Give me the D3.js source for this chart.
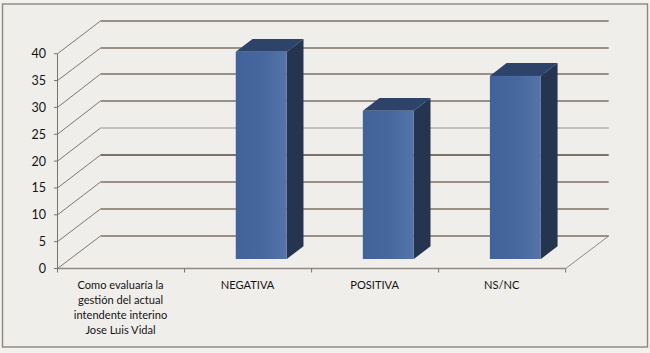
<!DOCTYPE html>
<html><head><meta charset="utf-8">
<script src="https://cdn.jsdelivr.net/npm/d3@7/dist/d3.min.js"></script>
<style>html,body{margin:0;padding:0;background:#f3f1ee}svg{display:block}</style></head>
<body><svg id="c" width="650" height="353"></svg>
<script>
const categories = ["Como evaluaría la|gestión del actual|intendente interino|Jose Luis Vidal", "NEGATIVA", "POSITIVA", "NS/NC"];
const barCategories = ["NEGATIVA", "POSITIVA", "NS/NC"];
const barValues = [38.6, 27.6, 34.1];
const yTicks = [0, 5, 10, 15, 20, 25, 30, 35, 40];

const svg = d3.select("#c");
const font = "Lato, 'Open Sans', sans-serif";
const x = d3.scaleBand().domain(categories).range([57.5, 565.7]);
const y = d3.scaleLinear().domain([0, 40]).range([268.5, 53.7]);
const wallDx = 43, wallDy = -33;
const barFrontDy = -9.5, barShiftX = 13.2, barW = 51, barDx = 16.7, barDy = -12.8;

const defs = svg.append("defs");
const g = defs.append("linearGradient").attr("id", "face");
g.append("stop").attr("offset", "0").attr("stop-color", "#41639a");
g.append("stop").attr("offset", "0.55").attr("stop-color", "#47689f");
g.append("stop").attr("offset", "1").attr("stop-color", "#5575a9");

svg.append("rect").attr("x", 2.5).attr("y", 4).attr("width", 645).attr("height", 343)
  .attr("fill", "#f0eeeb").attr("stroke", "#8b8781").attr("stroke-width", 1.4);

// gridlines on back wall and side wall
const grid = svg.append("g");
yTicks.forEach(t => {
  const c = t === 20 ? "#c4c0bb" : (t === 15 ? "#7d7269" : "#9a9086");
  const by = Math.round(y(t) + wallDy);
  grid.append("line").attr("x1", 57.5).attr("y1", y(t)).attr("x2", 57.5 + wallDx).attr("y2", by)
    .attr("stroke", "#7d7871").attr("stroke-width", 1);
  grid.append("line").attr("x1", 57.5 + wallDx).attr("y1", by).attr("x2", 565.7 + wallDx).attr("y2", by)
    .attr("stroke", c).attr("stroke-width", 2);
});
// floor edge
svg.append("line").attr("x1", 565.7).attr("y1", y(0)).attr("x2", 565.7 + wallDx).attr("y2", Math.round(y(0) + wallDy))
  .attr("stroke", "#8f8a83").attr("stroke-width", 1);

// axes
const axisG = svg.append("g");
axisG.append("line").attr("x1", 57.5).attr("x2", 57.5).attr("y1", y(40)).attr("y2", y(0)).attr("stroke", "#77736d");
axisG.append("line").attr("x1", 57.5).attr("x2", 565.7).attr("y1", y(0)).attr("y2", y(0)).attr("stroke", "#8f8a83").attr("stroke-width", 1.6);
yTicks.forEach(t => {
  axisG.append("line").attr("x1", 54).attr("x2", 57.5).attr("y1", y(t)).attr("y2", y(t)).attr("stroke", "#77736d");
  axisG.append("text").attr("x", 46).attr("y", y(t)).attr("dy", "0.36em").attr("text-anchor", "end")
    .attr("font-family", font).attr("font-size", 12.5).attr("fill", "#141414").text(t);
});
const edges = categories.map(c => x(c)).concat([565.7]);
edges.forEach(e => axisG.append("line").attr("x1", e).attr("x2", e).attr("y1", y(0)).attr("y2", y(0) + 4).attr("stroke", "#77736d"));

// category labels
categories.forEach(c => {
  const lines = c.split("|");
  const t = svg.append("text").attr("text-anchor", "middle").attr("font-family", font).attr("font-size", 11.1).attr("fill", "#141414");
  lines.forEach((l, i) => t.append("tspan").attr("x", x(c) + x.bandwidth() / 2 - 0.5).attr("y", 288.5 + i * 15.3).text(l));
});

// bars
const bars = svg.append("g");
barCategories.forEach((c, i) => {
  const l = x(c) + x.bandwidth() / 2 + barShiftX - barW / 2, r = l + barW;
  const b = y(0) + barFrontDy, top = y(barValues[i]) + barFrontDy;
  const pts = a => a.map(p => p.join(",")).join(" ");
  bars.append("polygon").attr("points", pts([[r, top], [r + barDx, top + barDy], [r + barDx, b + barDy], [r, b]])).attr("fill", "#25344f");
  bars.append("polygon").attr("points", pts([[l, top], [l + barDx, top + barDy], [r + barDx, top + barDy], [r, top]])).attr("fill", "#2d4369");
  bars.append("rect").attr("x", l).attr("y", top).attr("width", barW).attr("height", b - top).attr("fill", "url(#face)");
});
</script></body></html>
